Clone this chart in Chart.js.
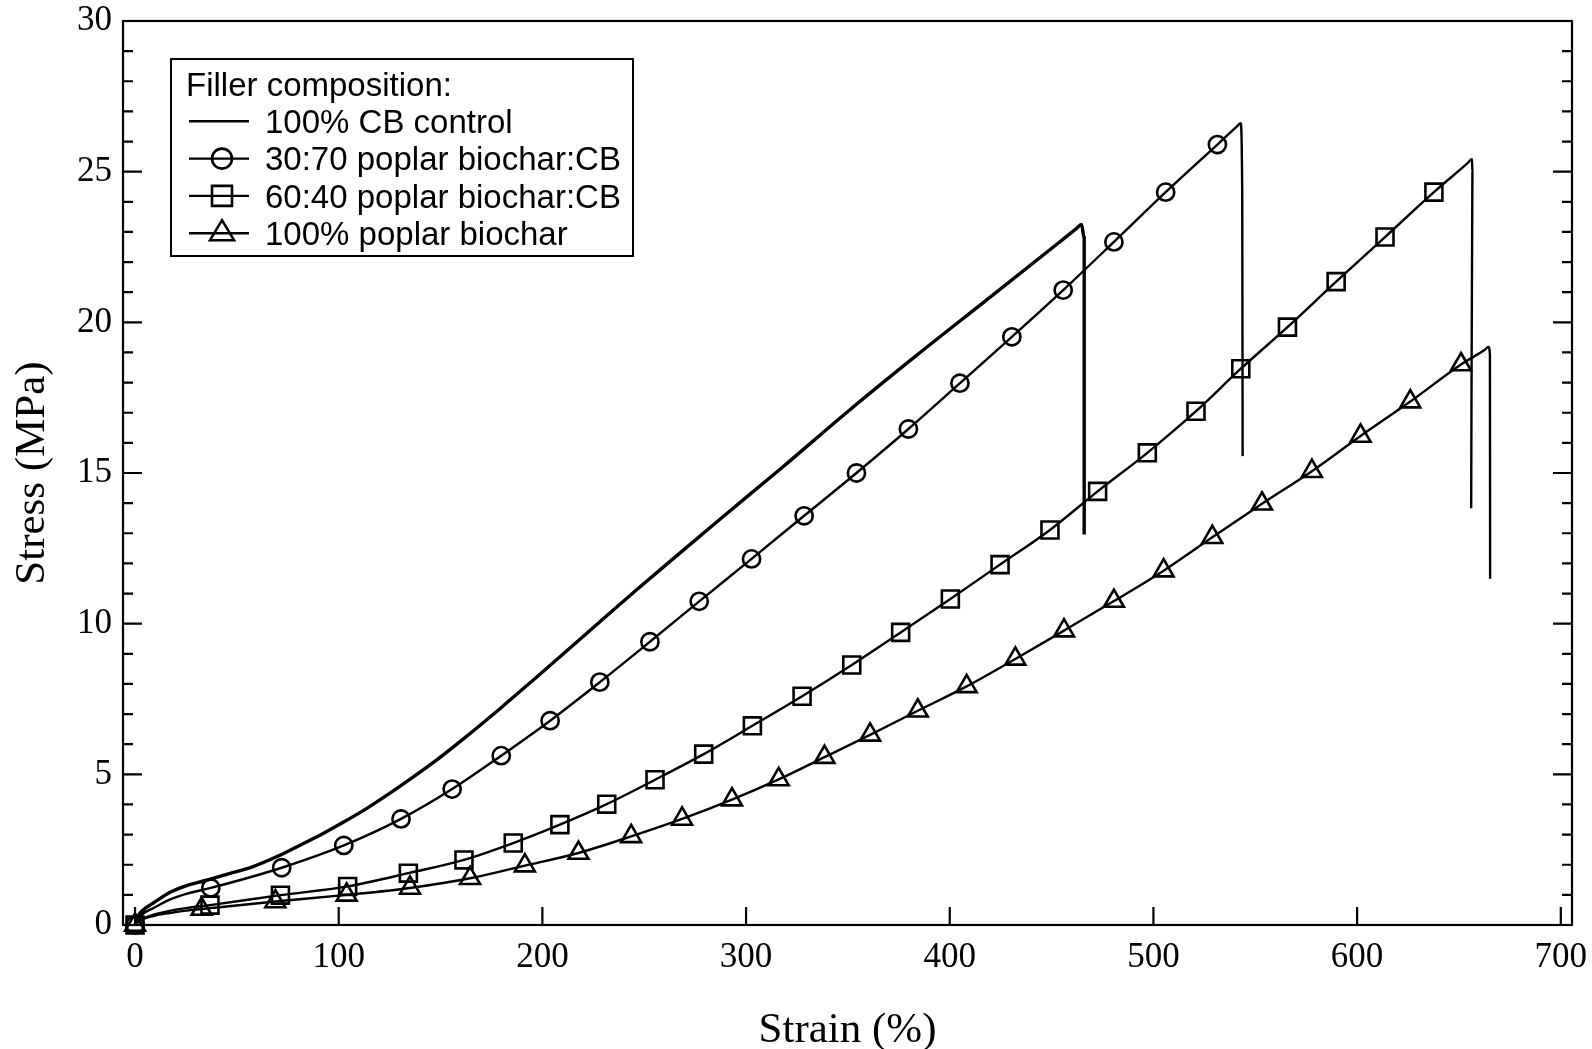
<!DOCTYPE html>
<html>
<head>
<meta charset="utf-8">
<title>Stress-strain</title>
<script src="https://cdn.jsdelivr.net/npm/chart.js@4.4.1/dist/chart.umd.min.js"></script>
<style>
  html, body { margin: 0; padding: 0; background: #fff; }
  #wrap { width: 1592px; height: 1049px; }
</style>
</head>
<body>
<div id="wrap"><canvas id="stressChart" width="1592" height="1049"></canvas></div>
<script>
// axis ticks
const xTicks = [0, 100, 200, 300, 400, 500, 600, 700];
const yTicks = [0, 5, 10, 15, 20, 25, 30];

const legendTitle = 'Filler composition:';
const seriesLabels = ['100% CB control', '30:70 poplar biochar:CB', '60:40 poplar biochar:CB', '100% poplar biochar'];

// 100% CB control (plain line, no markers)
const cbStrain = [0, 1.5, 4, 9, 17, 25, 33.5, 45, 58, 70, 81, 91, 102, 114, 130, 146, 162, 179, 195, 212, 228, 245, 265, 286, 318, 351, 384, 416, 449, 462, 464.7, 466, 466];
const cbStress = [0, 0.3, 0.5, 0.73, 1.08, 1.3, 1.46, 1.68, 1.94, 2.28, 2.65, 2.99, 3.4, 3.88, 4.6, 5.37, 6.22, 7.17, 8.1, 9.1, 10.05, 11.05, 12.2, 13.4, 15.2, 17.1, 18.92, 20.63, 22.4, 23.1, 23.25, 22.8, 12.96];

// 30:70 poplar biochar:CB (circles)
const c30MarkStrain = [0, 37.2, 72, 102.5, 130.6, 155.7, 179.8, 203.8, 228.2, 252.8, 277, 302.7, 328.5, 354.2, 379.7, 405, 430.5, 455.7, 480.6, 506, 531.4];
const c30MarkStress = [0, 1.23, 1.9, 2.64, 3.52, 4.51, 5.62, 6.78, 8.06, 9.4, 10.74, 12.15, 13.58, 15.0, 16.46, 17.98, 19.52, 21.07, 22.67, 24.32, 25.9];
const c30LeadStrain = [1.5, 4, 9, 17, 26];
const c30LeadStress = [0.2, 0.38, 0.56, 0.84, 1.05];
const c30TailStrain = [541, 542.8, 543.6, 543.8];
const c30TailStress = [26.5, 26.61, 24.2, 15.56];

// 60:40 poplar biochar:CB (squares)
const c60MarkStrain = [0, 36.8, 71.4, 104.4, 134.2, 161.5, 185.7, 208.6, 231.6, 255.3, 279.2, 303.1, 327.5, 351.9, 375.9, 400.3, 424.7, 449.2, 472.6, 497, 520.9, 542.9, 565.8, 589.7, 613.7, 637.7];
const c60MarkStress = [0, 0.66, 0.99, 1.28, 1.72, 2.16, 2.72, 3.33, 4.01, 4.82, 5.67, 6.61, 7.59, 8.63, 9.71, 10.82, 11.96, 13.11, 14.39, 15.67, 17.05, 18.46, 19.84, 21.35, 22.83, 24.32];
const c60LeadStrain = [1.5, 4, 9, 17, 26];
const c60LeadStress = [0.12, 0.22, 0.34, 0.47, 0.57];
const c60TailStrain = [654.5, 656.4, 656.6, 656.0];
const c60TailStress = [25.3, 25.42, 25.0, 13.83];

// 100% poplar biochar (triangles)
const pbMarkStrain = [0, 32.7, 68.9, 103.9, 135, 164.5, 191.4, 217.7, 243.6, 268.6, 293.1, 316, 338.5, 360.9, 384.3, 408.3, 432.2, 456.1, 480.6, 505, 528.9, 553.3, 577.8, 601.7, 626.1, 651];
const pbMarkStress = [0, 0.53, 0.78, 1.0, 1.23, 1.55, 1.97, 2.39, 2.94, 3.52, 4.16, 4.83, 5.57, 6.31, 7.11, 7.92, 8.83, 9.77, 10.75, 11.76, 12.87, 13.98, 15.06, 16.23, 17.37, 18.6];
const pbLeadStrain = [1.5, 4, 9, 17, 24];
const pbLeadStress = [0.1, 0.2, 0.3, 0.4, 0.47];
const pbTailStrain = [662.5, 664.5, 665.2, 665.3];
const pbTailStress = [19.08, 19.18, 18.9, 11.49];

const pts = (xs, ys) => xs.map((x, i) => ({ x: x, y: ys[i] }));

// curve = origin marker, lead-in points, remaining markers, then peak and break
function curve(mx, my, lx, ly, tx, ty) {
    const m = pts(mx, my);
    return [m[0], ...pts(lx, ly), ...m.slice(1), ...pts(tx, ty)];
}

const lineStyle = { showLine: true, borderColor: '#000', borderWidth: 2.4, pointRadius: 0, cubicInterpolationMode: 'monotone', fill: false };
const markStyle = { showLine: false, pointBorderColor: '#000', pointBackgroundColor: 'rgba(0,0,0,0)', pointBorderWidth: 2.6, clip: false };

const serif = "'Liberation Serif', 'Times New Roman', serif";
const sans = "'Liberation Sans', Arial, sans-serif";

// box, inward ticks and the legend
const framePlugin = {
    id: 'frame',
    afterDraw(chart) {
        const { ctx, chartArea: a, scales } = chart;
        const x = scales.x, y = scales.y;
        ctx.save();
        ctx.strokeStyle = '#000';
        ctx.lineWidth = 2.2;
        ctx.strokeRect(a.left, a.top, a.right - a.left, a.bottom - a.top);

        ctx.beginPath();
        xTicks.forEach(v => {
            const px = x.getPixelForValue(v);
            ctx.moveTo(px, a.bottom);
            ctx.lineTo(px, a.bottom - 18);
        });
        for (let v = yTicks[0]; v <= yTicks[yTicks.length - 1]; v++) {
            const py = y.getPixelForValue(v);
            const len = v % 5 === 0 ? 19 : 10;
            ctx.moveTo(a.left, py); ctx.lineTo(a.left + len, py);
            ctx.moveTo(a.right, py); ctx.lineTo(a.right - len, py);
        }
        ctx.stroke();

        // legend
        const lx = a.left + 48, ly = a.top + 38, lw = 462, lh = 197;
        ctx.fillStyle = '#fff';
        ctx.fillRect(lx, ly, lw, lh);
        ctx.lineWidth = 2;
        ctx.strokeRect(lx, ly, lw, lh);
        ctx.fillStyle = '#000';
        ctx.font = '33px ' + sans;
        ctx.textBaseline = 'alphabetic';
        ctx.textAlign = 'left';
        const rowMid = r => ly + 25 + r * 37.3;
        ctx.fillText(legendTitle, lx + 15, rowMid(0) + 11.8);
        seriesLabels.forEach((lab, i) => {
            const cy = rowMid(i + 1);
            ctx.fillText(lab, lx + 94, cy + 11.8);
            ctx.lineWidth = 2.4;
            ctx.beginPath();
            ctx.moveTo(lx + 18, cy); ctx.lineTo(lx + 78, cy);
            ctx.stroke();
            const cx = lx + 51;
            ctx.lineWidth = 2.6;
            ctx.beginPath();
            if (i === 1) {
                ctx.arc(cx, cy, 10, 0, Math.PI * 2);
            } else if (i === 2) {
                ctx.rect(cx - 10, cy - 10, 20, 20);
            } else if (i === 3) {
                ctx.moveTo(cx, cy - 13);
                ctx.lineTo(cx + 12, cy + 7);
                ctx.lineTo(cx - 12, cy + 7);
                ctx.closePath();
            }
            if (i > 0) ctx.stroke();
        });
        ctx.restore();
    }
};

const ctx = document.getElementById('stressChart').getContext('2d');
new Chart(ctx, {
    type: 'scatter',
    data: {
        datasets: [
            { ...lineStyle, label: seriesLabels[0], data: pts(cbStrain, cbStress), borderWidth: 3.4 },
            { ...lineStyle, label: seriesLabels[1], data: curve(c30MarkStrain, c30MarkStress, c30LeadStrain, c30LeadStress, c30TailStrain, c30TailStress) },
            { ...markStyle, label: seriesLabels[1] + ' markers', data: pts(c30MarkStrain, c30MarkStress), pointStyle: 'circle', pointRadius: 8.6 },
            { ...lineStyle, label: seriesLabels[2], data: curve(c60MarkStrain, c60MarkStress, c60LeadStrain, c60LeadStress, c60TailStrain, c60TailStress) },
            { ...markStyle, label: seriesLabels[2] + ' markers', data: pts(c60MarkStrain, c60MarkStress), pointStyle: 'rect', pointRadius: 12 },
            { ...lineStyle, label: seriesLabels[3], data: curve(pbMarkStrain, pbMarkStress, pbLeadStrain, pbLeadStress, pbTailStrain, pbTailStress) },
            { ...markStyle, label: seriesLabels[3] + ' markers', data: pts(pbMarkStrain, pbMarkStress), pointStyle: 'triangle', pointRadius: 11.5 }
        ]
    },
    options: {
        responsive: false,
        animation: false,
        devicePixelRatio: 1,
        layout: { padding: { top: 21, right: 20, left: 0, bottom: 0 } },
        plugins: {
            legend: { display: false },
            tooltip: { enabled: false }
        },
        scales: {
            x: {
                type: 'linear',
                min: -5.9,
                max: 705.5,
                grid: { display: false, drawTicks: false },
                border: { display: false },
                afterBuildTicks: s => { s.ticks = xTicks.map(v => ({ value: v })); },
                afterFit: s => { s.height = 124; s.paddingLeft = 0; s.paddingRight = 0; },
                ticks: { color: '#000', padding: 12, maxRotation: 0, font: { family: serif, size: 35 } },
                title: { display: true, text: 'Strain (%)', color: '#000', padding: { top: 0, bottom: 0 }, font: { family: serif, size: 43, lineHeight: 0.85 } }
            },
            y: {
                type: 'linear',
                min: 0,
                max: 30,
                grid: { display: false, drawTicks: false },
                border: { display: false },
                afterBuildTicks: s => { s.ticks = yTicks.map(v => ({ value: v })); },
                afterFit: s => { s.width = 123; s.paddingTop = 0; s.paddingBottom = 0; },
                ticks: { color: '#000', padding: 11, font: { family: serif, size: 35 } },
                title: { display: true, text: 'Stress (MPa)', color: '#000', padding: { top: 7, bottom: 0 }, font: { family: serif, size: 43 } }
            }
        }
    },
    plugins: [framePlugin]
});
</script>
</body>
</html>
